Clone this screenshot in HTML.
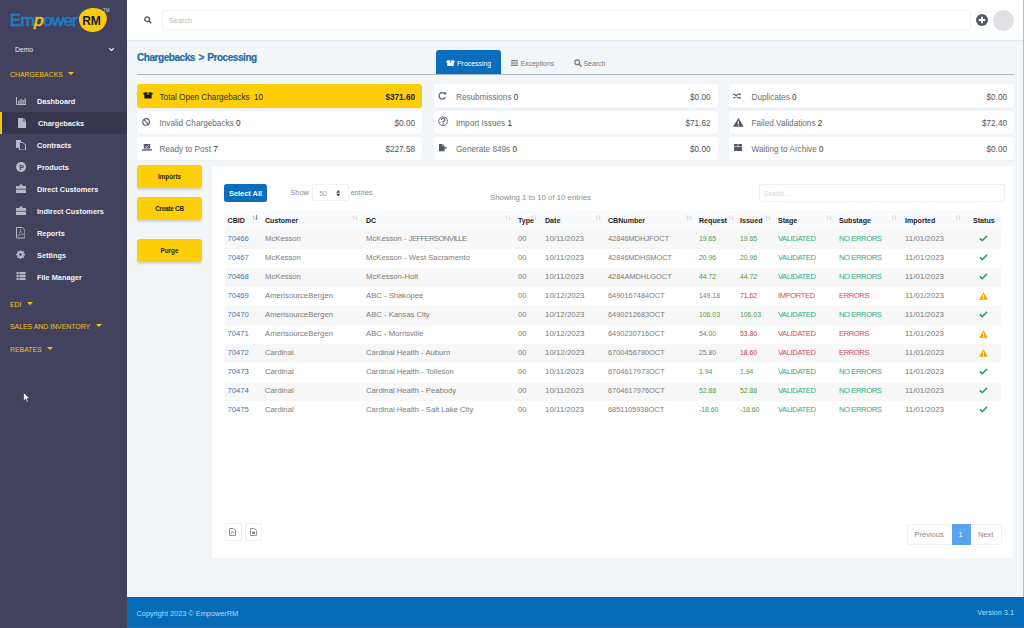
<!DOCTYPE html>
<html><head><meta charset="utf-8"><title>EmpowerRM - Chargebacks Processing</title>
<style>
*{box-sizing:border-box;margin:0;padding:0}
html,body{width:1024px;height:628px;overflow:hidden}
body{position:relative;background:#f3f6f9;font-family:"Liberation Sans",Arial,sans-serif;color:#555}
.abs{position:absolute}
#sidebar{position:absolute;left:0;top:0;width:127px;height:628px;background:#42425f}
#topbar{position:absolute;left:127px;top:0;width:897px;height:40px;background:#fff;box-shadow:0 1px 1px rgba(0,0,0,.06)}
#footer{position:absolute;left:127px;top:597px;width:897px;height:31px;background:#076cb7;border-top:1px solid #11619c;border-bottom:1px solid #2a6ca3;color:#b9dbf8;font-size:7.35px}
.nav{position:absolute;left:0;width:127px;height:22px;color:#f4f4f8;font-weight:bold;font-size:7.35px;line-height:22px}
.nav .tx{position:absolute;left:37px;top:1px}
.nav svg{position:absolute;left:16px;top:6px}
.nav.active{background:#38354e;border-left:2px solid #f9c80e}
.sec{position:absolute;left:10px;color:#f3c313;font-size:6.9px;line-height:10px;margin-top:1.5px}
.sec .car{display:inline-block;width:0;height:0;border-left:3px solid transparent;border-right:3px solid transparent;border-top:3px solid #f3c313;margin-left:5.5px;vertical-align:1.5px}

.crumb{position:absolute;left:137px;top:51.7px;letter-spacing:-0.45px;word-spacing:1.2px;font-size:10px;font-weight:bold;color:#1e6ba5;-webkit-text-stroke:0.2px #1e6ba5;line-height:12px;white-space:nowrap}
.tabline{position:absolute;left:137px;top:73.5px;width:877px;height:1px;background:#a9b8c4}
.tab{position:absolute;top:50px;height:24.5px;font-size:6.9px;line-height:27px;color:#777;white-space:nowrap}
.tab.on{background:#0a6ebd;color:#fff;border-radius:3px 3px 0 0}
.card{position:absolute;height:22.5px;background:#fff;border-radius:3px;box-shadow:0 1px 2px rgba(0,0,0,.04);font-size:8.2px;color:#6a6e73;line-height:22.5px;white-space:nowrap}
.card .lb{position:absolute;left:22.5px;top:2.3px}
.card .lb b{color:#3a3a3a;font-weight:normal}
.card .am{position:absolute;right:7px;top:2.3px;color:#555}
.card svg{position:absolute}
.card.y{background:#fecf08;color:#2b2b2b}
.card.y .am{color:#1d1d1d;font-weight:bold}
.ybtn{position:absolute;left:137px;width:65px;height:23px;background:#fecf08;border-radius:3px;box-shadow:0 1px 2px rgba(0,0,0,.12);font-size:6.3px;font-weight:bold;color:#222;text-align:center;line-height:24px;box-shadow:0 1.5px 2px rgba(0,0,0,.13)}
#panel{position:absolute;left:212px;top:166px;width:801px;height:392px;background:#fff;border-radius:2px}
.th{position:absolute;top:215.5px;font-size:7.1px;font-weight:bold;color:#1e1e1e;line-height:10px;white-space:nowrap}
.so{position:absolute;top:215px}
.stripe{position:absolute;left:224.5px;width:776.5px;height:19px;background:#f7f7f8}
.td{position:absolute;font-size:7.6px;color:#7b7b7b;line-height:19px;white-space:nowrap}
.td.lnk{color:#3478b4}
.td.gn{color:#4c9a3a}
.td.rd{color:#cc3545}
.td.tl{color:#2fae7a}
.td.rd2{color:#d64a5c}
.st{position:absolute}
.td.c1{font-size:7.7px}
.td.c2{font-size:7.7px}
.td.c4,.td.c10{font-size:7.9px}
.td.c5{font-size:7.4px}
.td.c6,.td.c7{font-size:6.85px}
.td.c8,.td.c9{font-size:7.6px;letter-spacing:-0.4px}
</style></head><body>

<div id="sidebar">
  <!-- logo -->
  <div class="abs" style="left:0;top:0;width:127px;height:36px">
    <span class="abs" style="left:9.8px;top:9.7px;font-size:17.4px;font-weight:normal;-webkit-text-stroke:0.55px #1d7fc8;color:#1d7fc8;letter-spacing:-0.95px;line-height:20px;white-space:nowrap">Em<i style="color:#f4c514;-webkit-text-stroke:0.55px #f4c514;letter-spacing:-0.6px">p</i>ower</span>
    <div class="abs" style="left:79px;top:8px;width:27.5px;height:24px;border-radius:48% 52% 50% 50% / 45% 45% 55% 55%;background:#f8c813;transform:rotate(-8deg)"></div>
    <span class="abs" style="left:82.3px;top:13.5px;font-size:12px;font-weight:bold;color:#1b1b1b;line-height:14px;letter-spacing:-0.3px">RM</span>
    <span class="abs" style="left:103px;top:8px;font-size:4.5px;color:#c8c8d0;line-height:5px">TM</span>
  </div>
  <div class="abs" style="left:15px;top:45px;font-size:6.8px;color:#e8e8f0;line-height:10px">Demo</div>
  <svg class="abs" style="left:108px;top:46.7px" width="7" height="5" viewBox="0 0 7 5"><path d="M1.2 1.2 L3.5 3.4 L5.8 1.2" stroke="#f0f0f4" stroke-width="1.2" fill="none"/></svg>

  <div class="sec" style="top:68px">CHARGEBACKS<span class="car"></span></div>

  <div class="nav" style="top:90px"><svg width="10" height="8" viewBox="0 0 10 8" style="left:16px;top:7px"><path d="M0.5 0 V7.5 H10" stroke="#b9b8c8" fill="none"/><rect x="2.2" y="3.5" width="1.3" height="3.4" fill="#b9b8c8"/><rect x="4.3" y="2" width="1.3" height="4.9" fill="#b9b8c8"/><rect x="6.4" y="3" width="1.3" height="3.9" fill="#b9b8c8"/><rect x="8.5" y="1.5" width="1.3" height="5.4" fill="#b9b8c8"/></svg><span class="tx">Dashboard</span></div>
  <div class="nav active" style="top:112px"><svg style="left:15.8px;top:5.5px" width="8.5" height="10.5" viewBox="0 0 8.5 10.5"><path d="M0 0 H5.3 L8.5 3.2 V10.5 H0 Z" fill="#b9b8c8"/><path d="M5.3 0 V3.2 H8.5" fill="none" stroke="#37354f" stroke-width="0.5"/></svg><span class="tx" style="left:36px">Chargebacks</span></div>
  <div class="nav" style="top:134px"><svg width="10" height="10" viewBox="0 0 10 10"><path d="M0 0 H5 V2 H3 V8 H0 Z" fill="#b9b8c8"/><path d="M3.5 2.5 H7 L9.5 5 V10 H3.5 Z" fill="none" stroke="#b9b8c8"/></svg><span class="tx">Contracts</span></div>
  <div class="nav" style="top:156px"><svg width="10" height="10" viewBox="0 0 10 10"><circle cx="5" cy="5" r="5" fill="#b9b8c8"/><text x="3.2" y="7.6" font-size="7" font-weight="bold" fill="#42425f" font-family="Liberation Sans">P</text></svg><span class="tx">Products</span></div>
  <div class="nav" style="top:178px"><svg width="10" height="9" viewBox="0 0 10 9"><path d="M3.5 0.5 H6.5 V2 H10 V9 H0 V2 H3.5 Z" fill="#b9b8c8"/><rect x="0" y="4.8" width="10" height="0.8" fill="#42425f"/></svg><span class="tx">Direct Customers</span></div>
  <div class="nav" style="top:200px"><svg width="10" height="9" viewBox="0 0 10 9"><path d="M3.5 0.5 H6.5 V2 H10 V9 H0 V2 H3.5 Z" fill="#b9b8c8"/><rect x="0" y="4.8" width="10" height="0.8" fill="#42425f"/></svg><span class="tx">Indirect Customers</span></div>
  <div class="nav" style="top:222px"><svg style="left:16px;top:5px" width="9.4" height="11.5" viewBox="0 0 9.4 11.5"><path d="M0.5 0.5 H6.3 L8.9 3.1 V11 H0.5 Z" fill="none" stroke="#b9b8c8"/><path d="M2 9 C3.5 7 4.6 5 4.4 2.6 C4.8 4.6 5.8 6.6 7.6 7.4 C5.6 7.3 3.8 7.8 2 9 Z" stroke="#b9b8c8" fill="none" stroke-width="0.6"/></svg><span class="tx">Reports</span></div>
  <div class="nav" style="top:244px"><svg style="left:16px;top:5.6px" width="9.2" height="9.2" viewBox="0 0 9.2 9.2"><g fill="#b9b8c8"><rect x="3.7" y="0.2" width="1.8" height="2.2" rx="0.4" transform="rotate(0 4.6 4.6)"/><rect x="3.7" y="0.2" width="1.8" height="2.2" rx="0.4" transform="rotate(45 4.6 4.6)"/><rect x="3.7" y="0.2" width="1.8" height="2.2" rx="0.4" transform="rotate(90 4.6 4.6)"/><rect x="3.7" y="0.2" width="1.8" height="2.2" rx="0.4" transform="rotate(135 4.6 4.6)"/><rect x="3.7" y="0.2" width="1.8" height="2.2" rx="0.4" transform="rotate(180 4.6 4.6)"/><rect x="3.7" y="0.2" width="1.8" height="2.2" rx="0.4" transform="rotate(225 4.6 4.6)"/><rect x="3.7" y="0.2" width="1.8" height="2.2" rx="0.4" transform="rotate(270 4.6 4.6)"/><rect x="3.7" y="0.2" width="1.8" height="2.2" rx="0.4" transform="rotate(315 4.6 4.6)"/><circle cx="4.6" cy="4.6" r="3.3"/></g><circle cx="4.6" cy="4.6" r="1.3" fill="#42425f"/></svg><span class="tx">Settings</span></div>
  <div class="nav" style="top:266px"><svg style="left:16px;top:6.2px" width="10" height="8.2" viewBox="0 0 10 9"><g fill="#b9b8c8"><rect x="0" y="0" width="2.5" height="2.5"/><rect x="3.2" y="0" width="6.8" height="2.5"/><rect x="0" y="3.2" width="2.5" height="2.5"/><rect x="3.2" y="3.2" width="6.8" height="2.5"/><rect x="0" y="6.4" width="2.5" height="2.5"/><rect x="3.2" y="6.4" width="6.8" height="2.5"/></g></svg><span class="tx">File Manager</span></div>

  <div class="sec" style="top:298px">EDI<span class="car"></span></div>
  <div class="sec" style="top:320px">SALES AND INVENTORY<span class="car"></span></div>
  <div class="sec" style="top:343px">REBATES<span class="car"></span></div>

  <!-- cursor -->
  <svg class="abs" style="left:23px;top:392px" width="8" height="11" viewBox="0 0 8 11"><path d="M0.5 0.5 V9 L2.6 7 L4 10.3 L5.3 9.7 L4 6.6 H6.8 Z" fill="#fff" stroke="#222" stroke-width="0.6"/></svg>
</div>

<div id="topbar">
  <svg class="abs" style="left:17px;top:16px" width="8" height="8" viewBox="0 0 8 8"><circle cx="3.2" cy="3.2" r="2.4" fill="none" stroke="#555" stroke-width="1.3"/><path d="M5 5 L7.3 7.3" stroke="#555" stroke-width="1.5"/></svg>
  <div class="abs" style="left:34.5px;top:10px;width:809.5px;height:20.5px;border:1px solid #f0f1f3;border-radius:3px;background:#fff"></div>
  <div class="abs" style="left:42px;top:15.8px;font-size:7.3px;color:#bcbec2;line-height:10px">Search</div>
  <svg class="abs" style="left:849px;top:14px" width="12" height="12" viewBox="0 0 12 12"><circle cx="6" cy="6" r="6" fill="#555b66"/><path d="M6 2.8 V9.2 M2.8 6 H9.2" stroke="#fff" stroke-width="1.8"/></svg>
  <div class="abs" style="left:866px;top:10px;width:21px;height:21px;border-radius:50%;background:#dfe1e5"></div>
</div>


<div class="crumb">Chargebacks &gt; Processing</div>
<div class="tab on" style="left:436px;width:65px"><svg class="abs" style="left:10px;top:10px" width="9" height="6.5" viewBox="0 0 10 7"><path d="M0 1.3 L2.8 0 L5 1.1 L7.2 0 L10 1.3 L8.9 2.9 H8.6 V6.6 H1.4 V2.9 H1.1 Z" fill="#fff"/><path d="M5 1.1 L3.9 2.6 L6.1 2.6 Z" fill="#0a6ebd"/></svg><span class="abs" style="left:21px">Processing</span></div>
<div class="tab" style="left:510px;width:50px"><svg class="abs" style="left:1px;top:9.5px" width="7" height="6" viewBox="0 0 7 6"><g fill="#888"><rect y="0" width="7" height="1"/><rect y="1.7" width="7" height="1"/><rect y="3.4" width="7" height="1"/><rect y="5" width="7" height="1"/></g></svg><span class="abs" style="left:10.5px">Exceptions</span></div>
<div class="tab" style="left:574px;width:40px"><svg class="abs" style="left:0;top:9px" width="8" height="8" viewBox="0 0 8 8"><circle cx="3.2" cy="3.2" r="2.4" fill="none" stroke="#777" stroke-width="1.2"/><path d="M5 5 L7.4 7.4" stroke="#777" stroke-width="1.4"/></svg><span class="abs" style="left:9.5px">Search</span></div>
<div class="tabline"></div>

<!-- stat cards col 1 -->
<div class="card y" style="left:137px;top:84px;width:285px;height:23.5px;line-height:23.5px"><svg style="left:5.5px;top:8px" width="10" height="7" viewBox="0 0 10 7"><path d="M0 1.3 L2.8 0 L5 1.1 L7.2 0 L10 1.3 L8.9 2.9 H8.6 V6.6 H1.4 V2.9 H1.1 Z" fill="#1a1a1a"/><path d="M5 1.1 L3.9 2.6 L6.1 2.6 Z" fill="#fecf08"/></svg><span class="lb" style="color:#2b2b2b;top:1.8px">Total Open Chargebacks <b style="color:#1d1d1d;margin-left:2px">10</b></span><span class="am" style="top:1.8px">$371.60</span></div>
<div class="card" style="left:137px;top:111px;width:285px"><svg style="left:5px;top:7px" width="8.5" height="8" viewBox="0 0 8.5 8"><circle cx="4.1" cy="3.9" r="3.3" fill="none" stroke="#525a6a" stroke-width="1.1"/><path d="M1.8 1.6 L6.4 6.2" stroke="#525a6a" stroke-width="1.1"/></svg><span class="lb">Invalid Chargebacks <b>0</b></span><span class="am">$0.00</span></div>
<div class="card" style="left:137px;top:137px;width:285px"><svg style="left:5px;top:7.3px" width="10" height="7" viewBox="0 0 10 7"><rect x="1.8" y="0" width="6.4" height="4.6" rx="0.4" fill="#525a6a"/><path d="M0 5.2 H10 V6.6 H0 Z" fill="#525a6a"/><path d="M3.3 2.3 L4.6 3.5 L6.8 1.2" stroke="#fff" stroke-width="0.8" fill="none"/></svg><span class="lb">Ready to Post <b>7</b></span><span class="am">$227.58</span></div>
<!-- col 2 -->
<div class="card" style="left:433.5px;top:84px;width:284px;height:23.5px;line-height:23.5px"><svg style="left:4.8px;top:8px" width="8.5" height="7.5" viewBox="0 0 8.5 7.5"><path d="M7.1 2.4 A3.2 3.2 0 1 0 7.3 5" stroke="#525a6a" stroke-width="1.2" fill="none"/><path d="M5.4 0.2 L8.2 0.2 L8.2 3 Z" fill="#525a6a"/></svg><span class="lb" style="top:1.8px">Resubmissions <b>0</b></span><span class="am" style="top:1.8px">$0.00</span></div>
<div class="card" style="left:433.5px;top:111px;width:284px"><svg style="left:4.8px;top:5px" width="10.5" height="10.5" viewBox="0 0 10.5 10.5"><circle cx="5.1" cy="5.2" r="4.4" fill="none" stroke="#525a6a" stroke-width="0.9"/><path d="M3.5 4 A1.7 1.6 0 1 1 5.9 5.3 C5.2 5.7 5.1 6 5.1 6.6" stroke="#525a6a" stroke-width="1.2" fill="none"/><circle cx="5.1" cy="7.9" r="0.7" fill="#525a6a"/></svg><span class="lb">Import Issues <b>1</b></span><span class="am">$71.62</span></div>
<div class="card" style="left:433.5px;top:137px;width:284px"><svg style="left:5px;top:7.2px" width="9" height="7.5" viewBox="0 0 9 7.5"><path d="M0 0 H3.6 V2 H5.6 V7.3 H0 Z" fill="#525a6a"/><path d="M4 0 L5.6 1.6 H4 Z" fill="#525a6a"/><path d="M5.6 2.6 L8.3 3.9 L5.6 5.2 Z" fill="#525a6a"/></svg><span class="lb">Generate 849s <b>0</b></span><span class="am">$0.00</span></div>
<!-- col 3 -->
<div class="card" style="left:729px;top:84px;width:285px;height:23.5px;line-height:23.5px"><svg style="left:4.2px;top:8.6px" width="8.5" height="6" viewBox="0 0 8.5 6"><path d="M0 1.2 H1.8 L4.6 4.8 H6.6 M0 4.8 H1.8 L4.6 1.2 H6.6" stroke="#525a6a" stroke-width="1.1" fill="none"/><path d="M6.3 -0.2 L8.3 1.2 L6.3 2.6 Z M6.3 3.4 L8.3 4.8 L6.3 6.2 Z" fill="#525a6a"/></svg><span class="lb" style="top:1.8px">Duplicates <b>0</b></span><span class="am" style="top:1.8px">$0.00</span></div>
<div class="card" style="left:729px;top:111px;width:285px"><svg style="left:4.4px;top:6.6px" width="10.6" height="9" viewBox="0 0 10.6 9"><path d="M5.3 0.3 Q5.6 0 5.9 0.4 L10.4 8.3 Q10.5 8.8 10 8.8 H0.6 Q0.1 8.8 0.2 8.3 Z" fill="#525a6a"/><rect x="4.75" y="2.8" width="1.1" height="3.2" fill="#fff"/><rect x="4.75" y="6.7" width="1.1" height="1.1" fill="#fff"/></svg><span class="lb">Failed Validations <b>2</b></span><span class="am">$72.40</span></div>
<div class="card" style="left:729px;top:137px;width:285px"><svg style="left:4.5px;top:7.3px" width="8" height="7" viewBox="0 0 8 7"><path d="M0.3 0 H3.7 V2.4 H0 V0.4 Z M4.3 0 H7.7 L8 0.4 V2.4 H4.3 Z" fill="#525a6a"/><rect x="0" y="3" width="8" height="4" rx="0.4" fill="#525a6a"/></svg><span class="lb">Waiting to Archive <b>0</b></span><span class="am">$0.00</span></div>

<div class="ybtn" style="top:165px">Imports</div>
<div class="ybtn" style="top:197px;letter-spacing:-0.2px">Create CB</div>
<div class="ybtn" style="top:239px">Purge</div>

<div id="panel"></div>
<div class="abs" style="left:224px;top:184px;width:43px;height:18px;background:#0a6ebd;border-radius:2.5px;color:#fff;font-weight:bold;font-size:7.4px;line-height:19.5px;text-align:center">Select All</div>
<div class="abs" style="left:290.5px;top:188px;font-size:7.3px;color:#8a8a8a;line-height:10px">Show</div>
<div class="abs" style="left:311.5px;top:184.3px;width:37px;height:17px;border:1px solid #f0f1f3;border-radius:2px;background:#fff"></div>
<div class="abs" style="left:319.5px;top:189.2px;font-size:6.5px;color:#999;line-height:10px">50</div>
<svg class="abs" style="left:335.7px;top:189.8px" width="4.6" height="6.6" viewBox="0 0 5 7"><path d="M2.5 0 L4.8 2.9 H0.2 Z M2.5 7 L4.8 4.1 H0.2 Z" fill="#444"/></svg>
<div class="abs" style="left:350.5px;top:188px;font-size:7.3px;color:#8a8a8a;line-height:10px">entries</div>
<div class="abs" style="left:490px;top:192.7px;font-size:7.8px;color:#8d8d8d;line-height:10px;white-space:nowrap">Showing 1 to 10 of 10 entries</div>
<div class="abs" style="left:758.5px;top:184.3px;width:246px;height:17.3px;border:1px solid #eff0f2;border-radius:2px;background:#fff"></div>
<div class="abs" style="left:764px;top:188.6px;font-size:6.3px;color:#d3d5d8;line-height:10px">Search ...</div>
<div class="abs" style="left:224.5px;top:210.5px;width:776.5px;height:19px;background:#f9fafb"></div>
<div class="th" style="left:227.6px">CBID</div>
<svg class="so" style="left:252.0px" width="6" height="5" viewBox="0 0 6 5"><path d="M1.5 5 V0.6 M0.3 1.8 L1.5 0.6 L2.7 1.8" stroke="#bbb" stroke-width="0.7" fill="none"/><path d="M4.5 0 V4.4 M3.3 3.2 L4.5 4.4 L5.7 3.2" stroke="#666" stroke-width="0.7" fill="none"/></svg>
<div class="th" style="left:265.0px">Customer</div>
<svg class="so" style="left:352.0px" width="6" height="5" viewBox="0 0 6 5"><path d="M1.5 5 V0.6 M0.3 1.8 L1.5 0.6 L2.7 1.8" stroke="#d4d4d4" stroke-width="0.7" fill="none"/><path d="M4.5 0 V4.4 M3.3 3.2 L4.5 4.4 L5.7 3.2" stroke="#d4d4d4" stroke-width="0.7" fill="none"/></svg>
<div class="th" style="left:366.0px">DC</div>
<svg class="so" style="left:504.5px" width="6" height="5" viewBox="0 0 6 5"><path d="M1.5 5 V0.6 M0.3 1.8 L1.5 0.6 L2.7 1.8" stroke="#d4d4d4" stroke-width="0.7" fill="none"/><path d="M4.5 0 V4.4 M3.3 3.2 L4.5 4.4 L5.7 3.2" stroke="#d4d4d4" stroke-width="0.7" fill="none"/></svg>
<div class="th" style="left:518.0px">Type</div>
<svg class="so" style="left:531.2px" width="6" height="5" viewBox="0 0 6 5"><path d="M1.5 5 V0.6 M0.3 1.8 L1.5 0.6 L2.7 1.8" stroke="#d4d4d4" stroke-width="0.7" fill="none"/><path d="M4.5 0 V4.4 M3.3 3.2 L4.5 4.4 L5.7 3.2" stroke="#d4d4d4" stroke-width="0.7" fill="none"/></svg>
<div class="th" style="left:545.0px">Date</div>
<svg class="so" style="left:594.5px" width="6" height="5" viewBox="0 0 6 5"><path d="M1.5 5 V0.6 M0.3 1.8 L1.5 0.6 L2.7 1.8" stroke="#d4d4d4" stroke-width="0.7" fill="none"/><path d="M4.5 0 V4.4 M3.3 3.2 L4.5 4.4 L5.7 3.2" stroke="#d4d4d4" stroke-width="0.7" fill="none"/></svg>
<div class="th" style="left:608.0px">CBNumber</div>
<svg class="so" style="left:685.9px" width="6" height="5" viewBox="0 0 6 5"><path d="M1.5 5 V0.6 M0.3 1.8 L1.5 0.6 L2.7 1.8" stroke="#d4d4d4" stroke-width="0.7" fill="none"/><path d="M4.5 0 V4.4 M3.3 3.2 L4.5 4.4 L5.7 3.2" stroke="#d4d4d4" stroke-width="0.7" fill="none"/></svg>
<div class="th" style="left:699.0px">Request</div>
<svg class="so" style="left:727.5px" width="6" height="5" viewBox="0 0 6 5"><path d="M1.5 5 V0.6 M0.3 1.8 L1.5 0.6 L2.7 1.8" stroke="#d4d4d4" stroke-width="0.7" fill="none"/><path d="M4.5 0 V4.4 M3.3 3.2 L4.5 4.4 L5.7 3.2" stroke="#d4d4d4" stroke-width="0.7" fill="none"/></svg>
<div class="th" style="left:740.0px">Issued</div>
<svg class="so" style="left:764.5px" width="6" height="5" viewBox="0 0 6 5"><path d="M1.5 5 V0.6 M0.3 1.8 L1.5 0.6 L2.7 1.8" stroke="#d4d4d4" stroke-width="0.7" fill="none"/><path d="M4.5 0 V4.4 M3.3 3.2 L4.5 4.4 L5.7 3.2" stroke="#d4d4d4" stroke-width="0.7" fill="none"/></svg>
<div class="th" style="left:778.0px">Stage</div>
<svg class="so" style="left:825.5px" width="6" height="5" viewBox="0 0 6 5"><path d="M1.5 5 V0.6 M0.3 1.8 L1.5 0.6 L2.7 1.8" stroke="#d4d4d4" stroke-width="0.7" fill="none"/><path d="M4.5 0 V4.4 M3.3 3.2 L4.5 4.4 L5.7 3.2" stroke="#d4d4d4" stroke-width="0.7" fill="none"/></svg>
<div class="th" style="left:839.0px">Substage</div>
<svg class="so" style="left:891.2px" width="6" height="5" viewBox="0 0 6 5"><path d="M1.5 5 V0.6 M0.3 1.8 L1.5 0.6 L2.7 1.8" stroke="#d4d4d4" stroke-width="0.7" fill="none"/><path d="M4.5 0 V4.4 M3.3 3.2 L4.5 4.4 L5.7 3.2" stroke="#d4d4d4" stroke-width="0.7" fill="none"/></svg>
<div class="th" style="left:905.0px">Imported</div>
<svg class="so" style="left:954.5px" width="6" height="5" viewBox="0 0 6 5"><path d="M1.5 5 V0.6 M0.3 1.8 L1.5 0.6 L2.7 1.8" stroke="#d4d4d4" stroke-width="0.7" fill="none"/><path d="M4.5 0 V4.4 M3.3 3.2 L4.5 4.4 L5.7 3.2" stroke="#d4d4d4" stroke-width="0.7" fill="none"/></svg>
<div class="th" style="left:973.0px">Status</div>
<div class="stripe" style="top:229.5px"></div>
<div class="td lnk c0" style="left:227.6px;top:228.5px">70466</div>
<div class="td c1" style="left:265.0px;top:228.5px">McKesson</div>
<div class="td c2" style="left:366.0px;top:228.5px">McKesson - <span style="letter-spacing:-0.64px">JEFFERSONVILLE</span></div>
<div class="td c3" style="left:518.0px;top:228.5px">00</div>
<div class="td c4" style="left:545.0px;top:228.5px">10/11/2023</div>
<div class="td c5" style="left:608.0px;top:228.5px">42846MDHJFOCT</div>
<div class="td gn c6" style="left:699.0px;top:228.5px">19.65</div>
<div class="td gn c7" style="left:740.0px;top:228.5px">19.65</div>
<div class="td tl c8" style="left:778.0px;top:228.5px">VALIDATED</div>
<div class="td tl c9" style="left:839.0px;top:228.5px">NO ERRORS</div>
<div class="td c10" style="left:905.0px;top:228.5px">11/01/2023</div>
<svg class="st" style="left:978.5px;top:234.7px" width="9" height="7" viewBox="0 0 9 7"><path d="M0.8 3.4 L3.2 5.7 L8 0.9" stroke="#2e9e62" stroke-width="1.6" fill="none"/></svg>
<div class="td lnk c0" style="left:227.6px;top:247.5px">70467</div>
<div class="td c1" style="left:265.0px;top:247.5px">McKesson</div>
<div class="td c2" style="left:366.0px;top:247.5px">McKesson - West Sacramento</div>
<div class="td c3" style="left:518.0px;top:247.5px">00</div>
<div class="td c4" style="left:545.0px;top:247.5px">10/11/2023</div>
<div class="td c5" style="left:608.0px;top:247.5px">42846MDHSMOCT</div>
<div class="td gn c6" style="left:699.0px;top:247.5px">20.96</div>
<div class="td gn c7" style="left:740.0px;top:247.5px">20.96</div>
<div class="td tl c8" style="left:778.0px;top:247.5px">VALIDATED</div>
<div class="td tl c9" style="left:839.0px;top:247.5px">NO ERRORS</div>
<div class="td c10" style="left:905.0px;top:247.5px">11/01/2023</div>
<svg class="st" style="left:978.5px;top:253.7px" width="9" height="7" viewBox="0 0 9 7"><path d="M0.8 3.4 L3.2 5.7 L8 0.9" stroke="#2e9e62" stroke-width="1.6" fill="none"/></svg>
<div class="stripe" style="top:267.5px"></div>
<div class="td lnk c0" style="left:227.6px;top:266.5px">70468</div>
<div class="td c1" style="left:265.0px;top:266.5px">McKesson</div>
<div class="td c2" style="left:366.0px;top:266.5px">McKesson-Holt</div>
<div class="td c3" style="left:518.0px;top:266.5px">00</div>
<div class="td c4" style="left:545.0px;top:266.5px">10/11/2023</div>
<div class="td c5" style="left:608.0px;top:266.5px">4284AMDHLGOCT</div>
<div class="td gn c6" style="left:699.0px;top:266.5px">44.72</div>
<div class="td gn c7" style="left:740.0px;top:266.5px">44.72</div>
<div class="td tl c8" style="left:778.0px;top:266.5px">VALIDATED</div>
<div class="td tl c9" style="left:839.0px;top:266.5px">NO ERRORS</div>
<div class="td c10" style="left:905.0px;top:266.5px">11/01/2023</div>
<svg class="st" style="left:978.5px;top:272.7px" width="9" height="7" viewBox="0 0 9 7"><path d="M0.8 3.4 L3.2 5.7 L8 0.9" stroke="#2e9e62" stroke-width="1.6" fill="none"/></svg>
<div class="td lnk c0" style="left:227.6px;top:285.5px">70469</div>
<div class="td c1" style="left:265.0px;top:285.5px">AmerisourceBergen</div>
<div class="td c2" style="left:366.0px;top:285.5px">ABC - Shakopee</div>
<div class="td c3" style="left:518.0px;top:285.5px">00</div>
<div class="td c4" style="left:545.0px;top:285.5px">10/12/2023</div>
<div class="td c5" style="left:608.0px;top:285.5px">6490167484OCT</div>
<div class="td c6" style="left:699.0px;top:285.5px">149.18</div>
<div class="td rd c7" style="left:740.0px;top:285.5px">71.62</div>
<div class="td rd2 c8" style="left:778.0px;top:285.5px">IMPORTED</div>
<div class="td rd2 c9" style="left:839.0px;top:285.5px">ERRORS</div>
<div class="td c10" style="left:905.0px;top:285.5px">11/01/2023</div>
<svg class="st" style="left:979px;top:292.0px" width="9" height="8" viewBox="0 0 9 8"><path d="M4.5 0.3 L8.8 7.7 H0.2 Z" fill="#f0a30a"/><rect x="4" y="2.6" width="1" height="2.8" fill="#fff"/><rect x="4" y="6" width="1" height="1" fill="#fff"/></svg>
<div class="stripe" style="top:305.5px"></div>
<div class="td lnk c0" style="left:227.6px;top:304.5px">70470</div>
<div class="td c1" style="left:265.0px;top:304.5px">AmerisourceBergen</div>
<div class="td c2" style="left:366.0px;top:304.5px">ABC - Kansas City</div>
<div class="td c3" style="left:518.0px;top:304.5px">00</div>
<div class="td c4" style="left:545.0px;top:304.5px">10/12/2023</div>
<div class="td c5" style="left:608.0px;top:304.5px">6490212683OCT</div>
<div class="td gn c6" style="left:699.0px;top:304.5px">106.03</div>
<div class="td gn c7" style="left:740.0px;top:304.5px">106.03</div>
<div class="td tl c8" style="left:778.0px;top:304.5px">VALIDATED</div>
<div class="td tl c9" style="left:839.0px;top:304.5px">NO ERRORS</div>
<div class="td c10" style="left:905.0px;top:304.5px">11/01/2023</div>
<svg class="st" style="left:978.5px;top:310.7px" width="9" height="7" viewBox="0 0 9 7"><path d="M0.8 3.4 L3.2 5.7 L8 0.9" stroke="#2e9e62" stroke-width="1.6" fill="none"/></svg>
<div class="td lnk c0" style="left:227.6px;top:323.5px">70471</div>
<div class="td c1" style="left:265.0px;top:323.5px">AmerisourceBergen</div>
<div class="td c2" style="left:366.0px;top:323.5px">ABC - Morrisville</div>
<div class="td c3" style="left:518.0px;top:323.5px">00</div>
<div class="td c4" style="left:545.0px;top:323.5px">10/12/2023</div>
<div class="td c5" style="left:608.0px;top:323.5px">6490230716OCT</div>
<div class="td c6" style="left:699.0px;top:323.5px">54.00</div>
<div class="td rd c7" style="left:740.0px;top:323.5px">53.80</div>
<div class="td rd2 c8" style="left:778.0px;top:323.5px">VALIDATED</div>
<div class="td rd2 c9" style="left:839.0px;top:323.5px">ERRORS</div>
<div class="td c10" style="left:905.0px;top:323.5px">11/01/2023</div>
<svg class="st" style="left:979px;top:330.0px" width="9" height="8" viewBox="0 0 9 8"><path d="M4.5 0.3 L8.8 7.7 H0.2 Z" fill="#f0a30a"/><rect x="4" y="2.6" width="1" height="2.8" fill="#fff"/><rect x="4" y="6" width="1" height="1" fill="#fff"/></svg>
<div class="stripe" style="top:343.5px"></div>
<div class="td lnk c0" style="left:227.6px;top:342.5px">70472</div>
<div class="td c1" style="left:265.0px;top:342.5px">Cardinal</div>
<div class="td c2" style="left:366.0px;top:342.5px">Cardinal Health - Auburn</div>
<div class="td c3" style="left:518.0px;top:342.5px">00</div>
<div class="td c4" style="left:545.0px;top:342.5px">10/12/2023</div>
<div class="td c5" style="left:608.0px;top:342.5px">6700456780OCT</div>
<div class="td c6" style="left:699.0px;top:342.5px">25.80</div>
<div class="td rd c7" style="left:740.0px;top:342.5px">18.60</div>
<div class="td rd2 c8" style="left:778.0px;top:342.5px">VALIDATED</div>
<div class="td rd2 c9" style="left:839.0px;top:342.5px">ERRORS</div>
<div class="td c10" style="left:905.0px;top:342.5px">11/01/2023</div>
<svg class="st" style="left:979px;top:349.0px" width="9" height="8" viewBox="0 0 9 8"><path d="M4.5 0.3 L8.8 7.7 H0.2 Z" fill="#f0a30a"/><rect x="4" y="2.6" width="1" height="2.8" fill="#fff"/><rect x="4" y="6" width="1" height="1" fill="#fff"/></svg>
<div class="td lnk c0" style="left:227.6px;top:361.5px">70473</div>
<div class="td c1" style="left:265.0px;top:361.5px">Cardinal</div>
<div class="td c2" style="left:366.0px;top:361.5px">Cardinal Health - Tolleson</div>
<div class="td c3" style="left:518.0px;top:361.5px">00</div>
<div class="td c4" style="left:545.0px;top:361.5px">10/11/2023</div>
<div class="td c5" style="left:608.0px;top:361.5px">6704617973OCT</div>
<div class="td gn c6" style="left:699.0px;top:361.5px">1.94</div>
<div class="td gn c7" style="left:740.0px;top:361.5px">1.94</div>
<div class="td tl c8" style="left:778.0px;top:361.5px">VALIDATED</div>
<div class="td tl c9" style="left:839.0px;top:361.5px">NO ERRORS</div>
<div class="td c10" style="left:905.0px;top:361.5px">11/01/2023</div>
<svg class="st" style="left:978.5px;top:367.7px" width="9" height="7" viewBox="0 0 9 7"><path d="M0.8 3.4 L3.2 5.7 L8 0.9" stroke="#2e9e62" stroke-width="1.6" fill="none"/></svg>
<div class="stripe" style="top:381.5px"></div>
<div class="td lnk c0" style="left:227.6px;top:380.5px">70474</div>
<div class="td c1" style="left:265.0px;top:380.5px">Cardinal</div>
<div class="td c2" style="left:366.0px;top:380.5px">Cardinal Health - Peabody</div>
<div class="td c3" style="left:518.0px;top:380.5px">00</div>
<div class="td c4" style="left:545.0px;top:380.5px">10/11/2023</div>
<div class="td c5" style="left:608.0px;top:380.5px">6704617976OCT</div>
<div class="td gn c6" style="left:699.0px;top:380.5px">52.88</div>
<div class="td gn c7" style="left:740.0px;top:380.5px">52.88</div>
<div class="td tl c8" style="left:778.0px;top:380.5px">VALIDATED</div>
<div class="td tl c9" style="left:839.0px;top:380.5px">NO ERRORS</div>
<div class="td c10" style="left:905.0px;top:380.5px">11/01/2023</div>
<svg class="st" style="left:978.5px;top:386.7px" width="9" height="7" viewBox="0 0 9 7"><path d="M0.8 3.4 L3.2 5.7 L8 0.9" stroke="#2e9e62" stroke-width="1.6" fill="none"/></svg>
<div class="td lnk c0" style="left:227.6px;top:399.5px">70475</div>
<div class="td c1" style="left:265.0px;top:399.5px">Cardinal</div>
<div class="td c2" style="left:366.0px;top:399.5px">Cardinal Health - Salt Lake City</div>
<div class="td c3" style="left:518.0px;top:399.5px">00</div>
<div class="td c4" style="left:545.0px;top:399.5px">10/11/2023</div>
<div class="td c5" style="left:608.0px;top:399.5px">6851105938OCT</div>
<div class="td gn c6" style="left:699.0px;top:399.5px">-18.60</div>
<div class="td gn c7" style="left:740.0px;top:399.5px">-18.60</div>
<div class="td tl c8" style="left:778.0px;top:399.5px">VALIDATED</div>
<div class="td tl c9" style="left:839.0px;top:399.5px">NO ERRORS</div>
<div class="td c10" style="left:905.0px;top:399.5px">11/01/2023</div>
<svg class="st" style="left:978.5px;top:405.7px" width="9" height="7" viewBox="0 0 9 7"><path d="M0.8 3.4 L3.2 5.7 L8 0.9" stroke="#2e9e62" stroke-width="1.6" fill="none"/></svg>

<div class="abs" style="left:224.5px;top:523px;width:17px;height:17.5px;border:1px solid #eef0f2;border-radius:2px"></div>
<svg class="abs" style="left:229px;top:527.5px" width="7" height="8" viewBox="0 0 7 8"><path d="M0.5 0.5 H4.5 L6.5 2.5 V7.5 H0.5 Z" fill="none" stroke="#888" stroke-width="0.9"/><path d="M2 6 L3.5 3 L5 6" stroke="#888" stroke-width="0.7" fill="none"/></svg>
<div class="abs" style="left:245px;top:523px;width:17px;height:17.5px;border:1px solid #eef0f2;border-radius:2px"></div>
<svg class="abs" style="left:249.5px;top:527.5px" width="7" height="8" viewBox="0 0 7 8"><path d="M0.5 0.5 H4.5 L6.5 2.5 V7.5 H0.5 Z" fill="none" stroke="#888" stroke-width="0.9"/><rect x="2" y="3.5" width="3" height="2.6" fill="#888"/></svg>

<div class="abs" style="left:907px;top:524px;width:94.5px;height:20.5px;border:1px solid #eef0f2;border-radius:3px"></div>
<div class="abs" style="left:951.5px;top:524px;width:19px;height:20.5px;background:#5aa3ef"></div>
<div class="abs" style="left:914.5px;top:530px;font-size:7.5px;color:#8a8a8a;line-height:10px">Previous</div>
<div class="abs" style="left:958.5px;top:530px;font-size:7.5px;color:#fff;line-height:10px">1</div>
<div class="abs" style="left:978px;top:530px;font-size:7.5px;color:#8a8a8a;line-height:10px">Next</div>

<div id="footer">
  <span class="abs" style="left:9.5px;top:10.5px;line-height:9px">Copyright 2023 © EmpowerRM</span>
  <span class="abs" style="right:10px;top:9.8px;line-height:9px">Version 3.1</span>
</div>
<div class="abs" style="left:1023px;top:0;width:1px;height:597px;background:#b9bdc1"></div>

</body></html>
